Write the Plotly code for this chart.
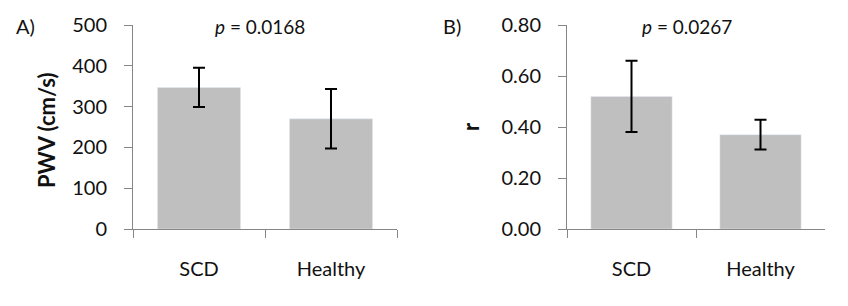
import plotly.graph_objects as go

categories = ["SCD", "Healthy"]
pwv_means = [347, 270]
pwv_err = [48, 73]
r_means = [0.52, 0.37]
r_err = [0.14, 0.058]
pwv_ticks = [0, 100, 200, 300, 400, 500]
r_ticks = [0, 0.2, 0.4, 0.6, 0.8]
r_tick_labels = ["0.00", "0.20", "0.40", "0.60", "0.80"]

FONT = "Lato"
BAR = "#BFBFBF"
AXIS = "#868686"
TXT = "#111111"
W, H = 848, 306
OFF = 8  # page body margin offset


def px(x):
    return (x - OFF) / W


def py(y):
    return 1 - (y - OFF) / H


fig = go.Figure()
fig.add_trace(go.Bar(x=categories, y=pwv_means, marker_color=BAR,
                     error_y=dict(type="data", array=pwv_err, color="black", thickness=2, width=6),
                     xaxis="x", yaxis="y", showlegend=False))
fig.add_trace(go.Bar(x=categories, y=r_means, marker_color=BAR,
                     error_y=dict(type="data", array=r_err, color="black", thickness=2, width=6),
                     xaxis="x2", yaxis="y2", showlegend=False))

ydom = [py(229), py(25)]
xcommon = dict(type="category", showline=True, linecolor=AXIS, linewidth=1,
               ticks="outside", tickson="boundaries", ticklen=8, tickcolor=AXIS,
               tickfont=dict(family=FONT, size=20, color=TXT), showgrid=False,
               ticklabelstandoff=22, automargin=False)
ycommon = dict(showline=True, linecolor=AXIS, linewidth=1, ticks="outside", ticklen=8,
               tickcolor=AXIS, tickfont=dict(family=FONT, size=20, color=TXT),
               showgrid=False, zeroline=False, domain=ydom, ticklabelstandoff=13,
               automargin=False)

fig.update_layout(
    width=W, height=H, margin=dict(l=0, r=0, t=0, b=0, autoexpand=False),
    plot_bgcolor="white", paper_bgcolor="white", bargap=0.37,
    xaxis=dict(domain=[px(133), px(397)], anchor="y", **xcommon),
    xaxis2=dict(domain=[px(567), px(825)], anchor="y2", **xcommon),
    yaxis=dict(anchor="x", range=[0, 500], tickvals=pwv_ticks, **ycommon),
    yaxis2=dict(anchor="x2", range=[0, 0.8], tickvals=r_ticks, ticktext=r_tick_labels, **ycommon),
    annotations=[
        dict(text="A)", x=px(14), y=py(26), xref="paper", yref="paper", showarrow=False,
             xanchor="left", yanchor="middle", font=dict(family=FONT, size=20, color=TXT)),
        dict(text="B)", x=px(441), y=py(26), xref="paper", yref="paper", showarrow=False,
             xanchor="left", yanchor="middle", font=dict(family=FONT, size=20, color=TXT)),
        dict(text="<b>PWV (cm/s)</b>", x=px(46), y=py(130), xref="paper", yref="paper",
             showarrow=False, textangle=-90, xanchor="center", yanchor="middle",
             font=dict(family=FONT, size=22, color=TXT)),
        dict(text="<b>r</b>", x=px(471), y=py(127), xref="paper", yref="paper",
             showarrow=False, textangle=-90, xanchor="center", yanchor="middle",
             font=dict(family=FONT, size=22, color=TXT)),
        dict(text="<i>p</i> = 0.0168", x=px(260), y=py(26), xref="paper", yref="paper",
             showarrow=False, xanchor="center", yanchor="middle",
             font=dict(family=FONT, size=19, color=TXT)),
        dict(text="<i>p</i> = 0.0267", x=px(687), y=py(26), xref="paper", yref="paper",
             showarrow=False, xanchor="center", yanchor="middle",
             font=dict(family=FONT, size=19, color=TXT)),
    ],
)

fig.write_html("out.html")
